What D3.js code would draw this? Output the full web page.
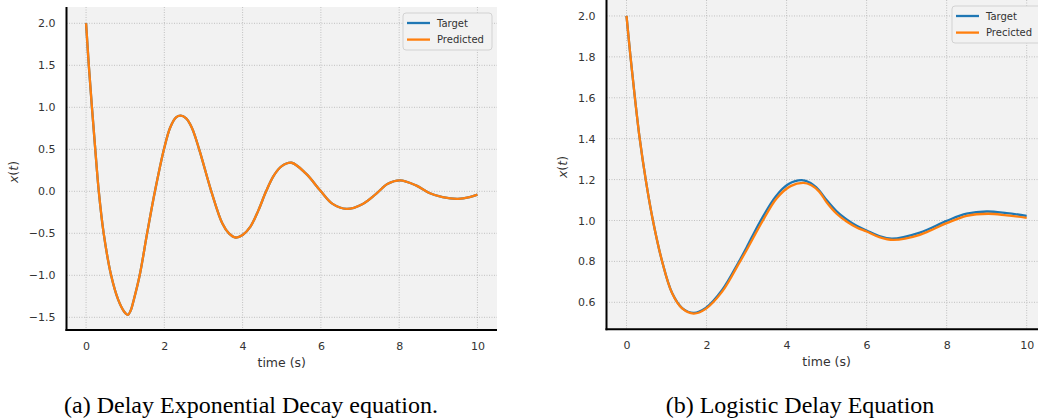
<!DOCTYPE html>
<html>
<head>
<meta charset="utf-8">
<script src="https://cdn.jsdelivr.net/npm/d3@7"></script>
<style>
  body { margin: 0; background: #fff; }
  svg { display: block; }
  .tick text { font-family: "DejaVu Sans", sans-serif; font-size: 11px; fill: #333; }
  .grid line { stroke: #b4b4b4; stroke-width: 0.8; stroke-dasharray: 1,1.5; }
  .caption { font-family: "Liberation Serif", "Times New Roman", serif; font-size: 24px; fill: #000; }
</style>
</head>
<body>
<svg id="fig" width="1038" height="419"></svg>
<script>
// ---- panel (a): delay exponential decay ----
const timeA   = [0, 0.07, 0.15, 0.235, 0.325, 0.45, 0.64, 0.82, 0.97, 1.07, 1.14, 1.22, 1.37, 1.56, 1.76, 1.99, 2.15, 2.30, 2.42, 2.55, 2.70, 2.89, 3.20, 3.48, 3.65, 3.82, 4.0, 4.2, 4.4, 4.6, 4.8, 5.0, 5.25, 5.62, 6.0, 6.30, 6.66, 7.07, 7.41, 7.71, 8.02, 8.43, 8.77, 9.11, 9.50, 9.80, 10.0]
const targetA = [2.0, 1.5, 1.0, 0.5, 0.0, -0.5, -1.0, -1.29, -1.43, -1.47, -1.42, -1.29, -1.0, -0.5, 0.0, 0.5, 0.76, 0.88, 0.90, 0.87, 0.76, 0.5, 0.0, -0.38, -0.50, -0.55, -0.52, -0.42, -0.23, 0.0, 0.19, 0.30, 0.34, 0.21, 0.0, -0.15, -0.21, -0.15, -0.03, 0.09, 0.13, 0.07, -0.02, -0.07, -0.09, -0.07, -0.04]
const predA   = targetA.slice()
const yTicksA = [-1.5, -1.0, -0.5, 0.0, 0.5, 1.0, 1.5, 2.0]

// ---- panel (b): logistic delay equation ----
const timeB   = [0, 0.10, 0.21, 0.33, 0.48, 0.66, 0.89, 1.14, 1.39, 1.68, 1.98, 2.39, 2.79, 3.00, 3.34, 3.73, 4.05, 4.38, 4.60, 4.80, 5.0, 5.25, 5.5, 5.75, 6.0, 6.3, 6.63, 7.33, 8.0, 8.5, 9.0, 9.5, 10.0]
const targetB = [2.0, 1.80, 1.60, 1.40, 1.20, 1.00, 0.80, 0.645, 0.572, 0.548, 0.572, 0.660, 0.792, 0.868, 0.995, 1.118, 1.178, 1.197, 1.183, 1.150, 1.10, 1.045, 1.005, 0.974, 0.951, 0.925, 0.911, 0.941, 0.998, 1.033, 1.044, 1.036, 1.023]
const timeBp  = [0, 0.10, 0.21, 0.33, 0.48, 0.66, 0.89, 1.14, 1.39, 1.68, 1.98, 2.39, 2.81, 3.02, 3.38, 3.75, 4.10, 4.42, 4.62, 4.82, 5.0, 5.25, 5.5, 5.75, 6.0, 6.3, 6.67, 7.33, 8.0, 8.5, 9.04, 9.5, 10.0]
const predB   = [2.0, 1.80, 1.60, 1.40, 1.20, 1.00, 0.80, 0.644, 0.570, 0.545, 0.568, 0.652, 0.790, 0.862, 0.990, 1.108, 1.168, 1.184, 1.172, 1.140, 1.089, 1.033, 0.995, 0.966, 0.946, 0.920, 0.905, 0.930, 0.987, 1.023, 1.033, 1.025, 1.013]
const yTicksB = [0.6, 0.8, 1.0, 1.2, 1.4, 1.6, 1.8, 2.0]

const xTicks = [0, 2, 4, 6, 8, 10]

const svg = d3.select("#fig")

function drawPanel(p) {
   var x = d3.scaleLinear().domain([-0.5, 10.5]).range([p.left, p.right])
   var y = d3.scaleLinear().domain(p.yDomain).range([p.bottom, p.top])
   var g = svg.append("g")

   // background
   g.append("rect")
      .attr("x", p.left).attr("y", p.top)
      .attr("width", p.right - p.left).attr("height", p.bottom - p.top)
      .attr("fill", "#f2f2f2")

   // grid
   var grid = g.append("g").attr("class", "grid")
   grid.selectAll(".gx").data(xTicks).enter().append("line")
      .attr("x1", d => x(d)).attr("x2", d => x(d))
      .attr("y1", p.top).attr("y2", p.bottom)
   grid.selectAll(".gy").data(p.yTicks).enter().append("line")
      .attr("x1", p.left).attr("x2", p.right)
      .attr("y1", d => y(d)).attr("y2", d => y(d))

   // axes (labels only, spines drawn separately)
   var xa = g.append("g")
      .attr("transform", "translate(0," + p.bottom + ")")
      .call(d3.axisBottom(x).tickValues(xTicks).tickSize(0).tickPadding(12).tickFormat(d3.format("d")))
   xa.select(".domain").remove()
   var ya = g.append("g")
      .attr("transform", "translate(" + p.left + ",0)")
      .call(d3.axisLeft(y).tickValues(p.yTicks).tickSize(0).tickPadding(11).tickFormat(d3.format(".1f")))
   ya.select(".domain").remove()

   // lines
   var line = d3.line()
      .x(d => x(d[0]))
      .y(d => y(d[1]))
      .curve(d3.curveCatmullRom.alpha(0.5))
   var clipId = "clip" + p.id
   g.append("clipPath").attr("id", clipId).append("rect")
      .attr("x", p.left).attr("y", p.top)
      .attr("width", p.right - p.left).attr("height", p.bottom - p.top)
   g.append("path")
      .datum(d3.zip(p.tTarget, p.target))
      .attr("d", line).attr("fill", "none")
      .attr("stroke", "#1f77b4").attr("stroke-width", 2.3)
      .attr("clip-path", "url(#" + clipId + ")")
   g.append("path")
      .datum(d3.zip(p.tPred, p.pred))
      .attr("d", line).attr("fill", "none")
      .attr("stroke", "#ff7f0e").attr("stroke-width", 2.3)
      .attr("clip-path", "url(#" + clipId + ")")

   // spines
   g.append("line").attr("x1", p.left).attr("x2", p.left)
      .attr("y1", p.top).attr("y2", p.bottom + 1)
      .attr("stroke", "#000").attr("stroke-width", 2)
   g.append("line").attr("x1", p.left - 1).attr("x2", p.right)
      .attr("y1", p.bottom).attr("y2", p.bottom)
      .attr("stroke", "#000").attr("stroke-width", 2)

   // axis labels
   g.append("text")
      .attr("x", (p.left + p.right) / 2 + p.xLabelShift).attr("y", p.bottom + 37)
      .attr("text-anchor", "middle")
      .style("font-family", "DejaVu Sans, sans-serif").style("font-size", "12.5px").style("fill", "#333")
      .text("time (s)")
   var yl = g.append("text")
      .attr("transform", "translate(" + p.yLabelX + "," + p.yLabelY + ") rotate(-90)")
      .attr("text-anchor", "middle")
      .style("font-family", "DejaVu Sans, sans-serif").style("font-size", "12.5px").style("fill", "#333")
   yl.append("tspan").style("font-style", "italic").text("x")
   yl.append("tspan").text("(")
   yl.append("tspan").style("font-style", "italic").text("t")
   yl.append("tspan").text(")")

   // legend
   var lg = g.append("g").attr("transform", "translate(" + p.legX + "," + p.legY + ")")
   lg.append("rect").attr("width", 89).attr("height", 37).attr("rx", 3)
      .attr("fill", "#f2f2f2").attr("stroke", "#d2d2d2").attr("stroke-width", 1)
   var items = [["#1f77b4", "Target"], ["#ff7f0e", p.predLabel]]
   items.forEach(function(it, i) {
      var yy = 10 + i * 16.6
      lg.append("line").attr("x1", 4).attr("x2", 27).attr("y1", yy).attr("y2", yy)
         .attr("stroke", it[0]).attr("stroke-width", 2.3)
      lg.append("text").attr("x", 34).attr("y", yy).attr("dy", "0.35em")
         .style("font-family", "DejaVu Sans, sans-serif").style("font-size", "10px").style("fill", "#333")
         .text(it[1])
   })

   // caption
   svg.append("text").attr("class", "caption")
      .attr("x", p.capX).attr("y", 413).attr("text-anchor", "middle")
      .text(p.caption)
}

drawPanel({
   id: "a", left: 66.5, right: 497, top: 7, bottom: 330,
   yDomain: [-1.651, 2.194], yTicks: yTicksA,
   tTarget: timeA, target: targetA, tPred: timeA, pred: predA,
   xLabelShift: 0, yLabelX: 18, yLabelY: 172,
   legX: 403, legY: 13, predLabel: "Predicted",
   capX: 251, caption: "(a) Delay Exponential Decay equation."
})

drawPanel({
   id: "b", left: 606.5, right: 1046.7, top: 0, bottom: 329.3,
   yDomain: [0.468, 2.078], yTicks: yTicksB,
   tTarget: timeB, target: targetB, tPred: timeBp, pred: predB,
   xLabelShift: 0, yLabelX: 567, yLabelY: 167,
   legX: 952, legY: 6, predLabel: "Precicted",
   capX: 800, caption: "(b) Logistic Delay Equation"
})
</script>
</body>
</html>
